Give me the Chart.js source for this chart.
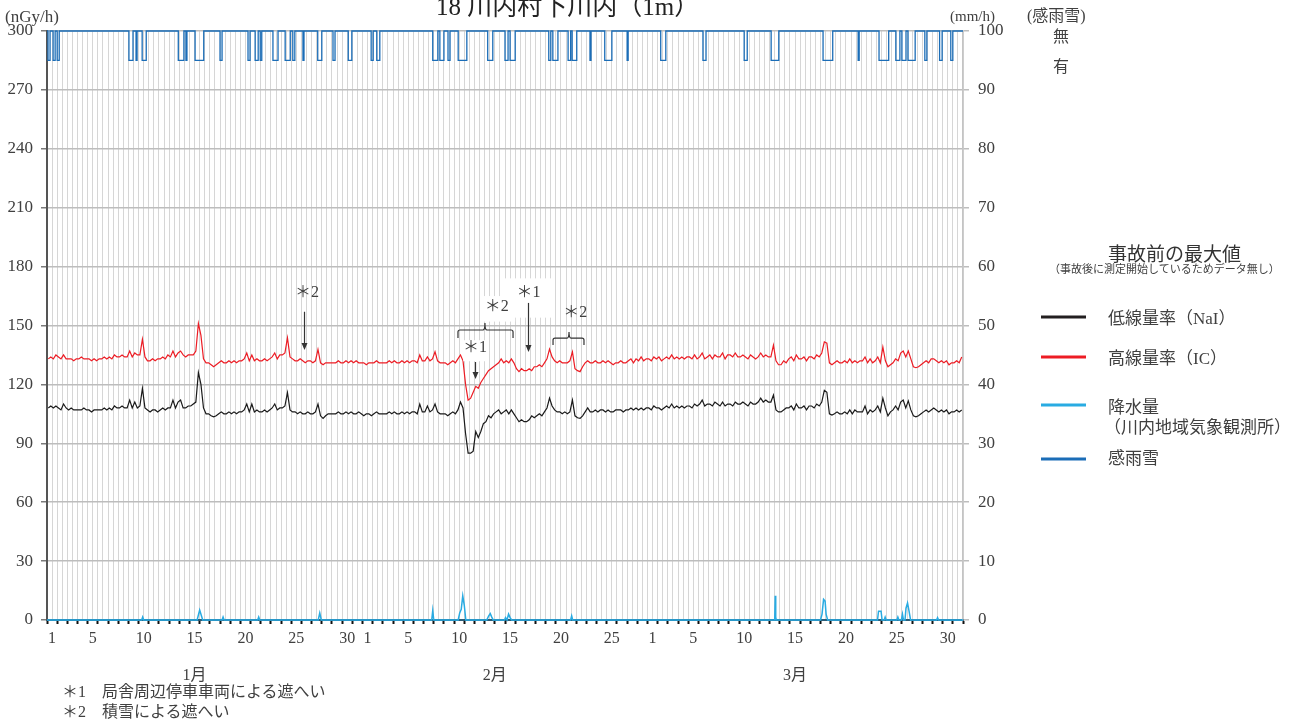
<!DOCTYPE html>
<html><head><meta charset="utf-8">
<script src="https://cdn.jsdelivr.net/npm/chart.js@4.4.1/dist/chart.umd.min.js"></script>
<style>
html,body{margin:0;padding:0;background:#fff;}
#wrap{position:relative;width:1290px;height:725px;overflow:hidden;}
canvas{position:absolute;left:0;top:0;}
.lbl{position:absolute;white-space:nowrap;color:#404040;font-family:"Liberation Serif","Noto Sans CJK JP",serif;line-height:1;transform:translateY(-50%);}
.ln{position:absolute;height:3px;width:45px;left:1041px;transform:translateY(-50%);}
</style></head><body>
<div id="wrap">
<canvas id="c" width="1290" height="725"></canvas>
<div class="lbl" style="left:436px;top:6px;font-size:25px;color:#222">18 川内村下川内（1m）</div>
<div class="lbl" style="left:5px;top:16px;font-size:17px">(nGy/h)</div>
<div class="lbl" style="left:950px;top:16px;font-size:15px">(mm/h)</div>
<div class="lbl" style="left:1027px;top:16px;font-size:16px">(感雨雪)</div>
<div class="lbl" style="left:1053px;top:37px;font-size:16px">無</div>
<div class="lbl" style="left:1053px;top:67px;font-size:16px">有</div>
<div class="lbl" style="left:1108px;top:254px;font-size:19px;color:#333">事故前の最大値</div>
<div class="lbl" style="left:1049px;top:269px;font-size:11px">（事故後に測定開始しているためデータ無し）</div>
<div class="ln" style="top:317px;background:#231f20"></div>
<div class="lbl" style="left:1108px;top:318px;font-size:17px">低線量率（NaI）</div>
<div class="ln" style="top:357px;background:#ed1c24"></div>
<div class="lbl" style="left:1108px;top:358px;font-size:17px">高線量率（IC）</div>
<div class="ln" style="top:405px;background:#29abe2"></div>
<div class="lbl" style="left:1108px;top:407px;font-size:17px">降水量</div>
<div class="lbl" style="left:1104px;top:427px;font-size:17px">（川内地域気象観測所）</div>
<div class="ln" style="top:459px;background:#1b6db7"></div>
<div class="lbl" style="left:1108px;top:458px;font-size:17px">感雨雪</div>
<div class="lbl" style="left:62px;top:692px;font-size:16px">＊1　局舎周辺停車車両による遮へい</div>
<div class="lbl" style="left:62px;top:712px;font-size:16px">＊2　積雪による遮へい</div>
</div>
<script>
// ---- categories / tick labels ----
const monthLengths = [31, 28, 31];
const monthNames = ['1月', '2月', '3月'];
const dayTickLabels = [1, 5, 10, 15, 20, 25, 30];
const samplesPerDay = 4;

// ---- 低線量率(NaI) nGy/h, 4 samples per day, Jan 1 .. Mar 31 ----
const nai = [
108,109,108,109, 108,107,110,108, 107,108,107,107, 107,107,108,107, 107,106,107,107,
107,107,108,107, 108,107,109,108, 108,109,108,108, 112,108,111,108, 109,118,108,107,
106,107,107,106, 107,108,107,108, 108,112,108,111, 112,108,108,109, 109,110,111,126,
120,108,105,105, 104,103.5,104,105, 106,105,105,106, 105,106,105,106, 106,107,110,106,
110,106,107,106, 106,107,106,107, 108,110,107,108, 108,109,115.8,107, 106,106,105,106,
105,105,106,105, 105,106,110,104, 102.7,104,105,105, 105,105,106,105, 105,106,105,106,
105,105,106,105,
104,105,105,104, 105,106,105,105, 105,105,106,105, 106,105,105,106, 105,106,105,106,
106,105,110,106, 106,109,106,107, 110,106,105,105, 105,104,105,106, 105,107,111,108,
95,85,85,86, 96,93,96,100, 101,104,103,105, 106,107,105,106, 107,105,107,105,
103,101,102,101, 101,102,104,103, 104,105,104,106, 108,113,109,107, 106,106,105,106,
105,106,112,104, 103,102.7,104,106, 108,106,106,107, 106,107,107,106, 107,106,106,107,
107,107,106,107, 107,108,107,108, 107,108,107,108, 108,107,109,108,
108,107,108,109, 108,110,108,109, 108,109,108,109, 109,108,110,109, 110,112,109,110,
110,109,111,110, 109,111,109,110, 110,109,111,110, 110,111,110,109, 111,110,110,111,
113,111,112,111, 111,114.6,107,106, 106,107,108,108, 109,107,110,108, 108,109,107,109,
109,108,110,109, 111,117,116,105, 104.4,105,106,105, 105,106,105,107, 105,107,106,106,
106,109,105,107, 106,107,109,106, 113,108,104,106, 107,109,107,111, 112,108,111.6,107,
104,103.5,104,105, 106,107,106,107, 108,107,106,107, 106,107,105,106, 106,107,106,107
];
// ---- 高線量率(IC) nGy/h ----
const ic = [
133,134,133,135, 134,133,135,133, 133,133,132,133, 133,134,133,133, 133,132,133,132,
133,133,134,133, 134,133,135,134, 134,135,134,134, 137,134,136,135, 135,143,134,132,
132,133,132,133, 133,134,133,135, 134,137,134,136, 137,135,134,135, 135,135,137,151,
145,133,131,131, 130,129,130,131, 132,131,131,132, 131,132,131,132, 132,133,136,132,
135,132,133,132, 132,133,132,133, 134,136,133,135, 135,136,143.7,134, 133,132,132,133,
132,131,132,132, 131,132,137.8,131, 130,131,131,131, 131,131,132,131, 131,132,131,132,
131,132,131,131,
131,130,131,131, 131,132,131,131, 131,131,132,131, 132,131,131,132, 131,132,131,132,
132,131,135,132, 132,134,132,133, 136.6,132,131,131, 131,130,131,132, 131,133,135,132,
120,112,113,116, 119,118,121,123, 125,127,128,129, 130,131,133,131, 132,131,133,131,
128,126.5,128,127, 127,128,127,129, 129,130,129,131, 133,138,134,132, 131,132,131,131,
131,132,136.6,128, 127,126.5,129,131, 132,131,131,132, 131,131,132,131, 132,131,130,131,
131,132,131,131, 132,133,131,133, 132,134,132,133, 133,132,134,133,
134,132,133,134, 133,135,133,134, 133,134,133,134, 134,133,135,133, 134,136,133,134,
135,133,135,134, 134,136,133,135, 135,134,136,134, 134,135,134,133, 135,134,133,134,
136,134,135,134, 134,140,132,130, 130,132,131,133, 134,132,135,133, 133,134,132,134,
134,133,135,134, 136,141.7,141,131, 130,131,132,131, 131,132,131,133, 131,132,131,132,
132,134,131,133, 131,132,134,131, 139,132,129,130, 131,133,132,136, 137,134,137,133,
129,128.5,129,130, 131,132,131,133, 133,132,131,132, 131,132,130,131, 131,132,131,134
];
// ---- 降水量 mm/h (time in days from Jan 1 00:00) ----
const precipDay = [0, 9.3,9.4,9.5, 14.75,15.0,15.3, 17.2,17.3,17.4, 20.7,20.8,20.9, 26.65,26.8,26.95,
  37.8,37.9,38.0, 40.4,40.55,40.7,40.85,41.0,41.15, 43.2,43.4,43.55,43.7,43.85,
  44.95,45.05,45.2,45.35,45.5,45.65, 51.45,51.55,51.65, 71.5,71.55,71.6,71.65,
  76.0,76.15,76.3,76.45,76.55,76.7, 81.6,81.7,81.95,82.05, 82.25,82.35,82.45,
  83.5,83.6,83.7, 83.95,84.05,84.15, 84.3,84.4,84.55,84.7,84.85, 87.4,87.5,87.6, 90];
const precipMm = [0, 0,0.5,0, 0,1.7,0, 0,0.5,0, 0,0.5,0, 0,1.2,0,
  0,1.6,0, 0,1.2,1.8,4.1,2.5,0, 0,0.7,1.1,0.5,0,
  0,0.4,0,1.0,0.4,0, 0,0.7,0, 0,4.1,0.5,0,
  0,1.0,3.5,3.2,1.0,0, 0,1.5,1.5,0, 0,0.5,0,
  0,0.5,0, 0,1.0,0, 0,2.0,2.9,1.5,0, 0,0.4,0, 0];
// ---- 感雨雪: periods with 有 (start/end, days) ----
const rainStart = [0.1,0.6,1.0,8.05,8.75,9.35,12.9,13.65,14.55,17.0,19.75,20.45,20.95,22.2,23.4,24.15,25.15,26.6,28.1,29.6,31.85,32.4,37.9,38.6,39.4,40.4,43.3,45.0,45.5,49.3,49.7,51.2,51.6,53.35,54.8,57.0,60.3,64.45,68.5,71.15,76.25,79.7,81.75,83.4,84.0,84.6,86.25,87.7,88.8];
const rainEnd   = [0.3,0.8,1.2,8.45,8.85,9.75,13.45,13.75,15.4,17.2,19.95,20.75,21.1,22.7,23.9,24.35,25.25,27.0,28.3,29.95,32.05,32.7,38.4,39.0,39.6,41.25,43.8,45.3,46.0,49.5,50.2,51.45,52.05,53.45,55.5,57.1,60.8,64.75,68.8,71.9,77.2,79.8,82.7,83.8,84.4,85.3,86.45,87.95,89.0];
const RAIN_NO = 100, RAIN_YES = 95;

// ---- build datasets ----
const totalDays = monthLengths.reduce((a, b) => a + b, 0);
const naiPts = nai.map((v, i) => ({x: (i + 0.5) / samplesPerDay, y: v}));
const icPts = ic.map((v, i) => ({x: (i + 0.5) / samplesPerDay, y: v}));
const precipPts = precipDay.map((d, i) => ({x: d, y: precipMm[i]}));
const rainPts = [{x: 0, y: RAIN_NO}];
rainStart.forEach((s, i) => { rainPts.push({x: s, y: RAIN_YES}); rainPts.push({x: rainEnd[i], y: RAIN_NO}); });
rainPts.push({x: totalDays, y: RAIN_NO});

function dayLabel(v) {
  if (Math.abs(v - Math.floor(v) - 0.5) > 1e-6) return '';
  let d = Math.floor(v);
  for (let m = 0; m < monthLengths.length; m++) {
    if (d < monthLengths[m]) { const dom = d + 1; return dayTickLabels.includes(dom) ? String(dom) : ''; }
    d -= monthLengths[m];
  }
  return '';
}

// annotations (in data units: days, nGy/h)
const notes = {
  boxes: [ {x1: 44.8, x2: 49.9, y1: 174, y2: 154}, {x1: 40.9, x2: 43.3, y1: 142.5, y2: 131.8}, {x1: 42.9, x2: 46.0, y1: 165, y2: 152} ],
  texts: [ {x: 25.55, y: 166.6, t: '＊2'}, {x: 42.05, y: 138.5, t: '＊1'}, {x: 44.2, y: 159.4, t: '＊2'}, {x: 47.3, y: 166.6, t: '＊1'}, {x: 51.9, y: 156.4, t: '＊2'} ],
  arrows: [ {x: 25.25, from: 157, to: 137.5}, {x: 42.05, from: 131.4, to: 122.8}, {x: 47.26, from: 161.5, to: 136.5} ],
  braces: [ {x1: 40.38, x2: 45.79, xm: 43.03, yEnd: 143.6, yBar: 147.7, yTip: 151.3}, {x1: 49.72, x2: 52.76, xm: 51.29, yEnd: 140.1, yBar: 143.6, yTip: 146.7} ]
};

const extras = {
  id: 'extras',
  afterDatasetsDraw(chart) {
    const c = chart.ctx, xs = chart.scales.x, ys = chart.scales.y;
    const X = v => xs.getPixelForValue(v), Y = v => ys.getPixelForValue(v);
    c.save();
    c.fillStyle = '#fff';
    notes.boxes.forEach(b => c.fillRect(X(b.x1), Y(b.y1), X(b.x2) - X(b.x1), Y(b.y2) - Y(b.y1)));
    c.strokeStyle = '#333'; c.fillStyle = '#333'; c.lineWidth = 1.2;
    notes.arrows.forEach(a => {
      const x = Math.round(X(a.x)) + 0.5, y1 = Y(a.from), y2 = Y(a.to);
      c.beginPath(); c.moveTo(x, y1); c.lineTo(x, y2 - 6); c.stroke();
      c.beginPath(); c.moveTo(x - 3, y2 - 7); c.lineTo(x + 3, y2 - 7); c.lineTo(x, y2); c.closePath(); c.fill();
    });
    notes.braces.forEach(b => {
      const xa = X(b.x1), xb = X(b.x2), xm = X(b.xm), ye = Y(b.yEnd), yb = Y(b.yBar), yt = Y(b.yTip);
      c.beginPath();
      c.moveTo(xa, ye); c.lineTo(xa, yb + 2); c.quadraticCurveTo(xa, yb, xa + 2, yb);
      c.lineTo(xm - 2, yb); c.quadraticCurveTo(xm, yb, xm, yt);
      c.quadraticCurveTo(xm, yb, xm + 2, yb);
      c.lineTo(xb - 2, yb); c.quadraticCurveTo(xb, yb, xb, yb + 2); c.lineTo(xb, ye);
      c.stroke();
    });
    c.fillStyle = '#404040';
    c.font = '16px "Liberation Serif", "Noto Sans CJK JP", serif';
    c.textAlign = 'center'; c.textBaseline = 'middle';
    notes.texts.forEach(t => c.fillText(t.t, X(t.x), Y(t.y)));
    // month labels
    let start = 0;
    c.font = '16px "Liberation Serif", "Noto Sans CJK JP", serif';
    monthLengths.forEach((len, m) => {
      c.fillText(monthNames[m], X(start + len / 2 - 1), 676);
      start += len;
    });
    c.restore();
  }
};

const tickFont = {family: '"Liberation Serif", serif', size: 17};
new Chart(document.getElementById('c'), {
  type: 'line',
  data: { datasets: [
    {label: '感雨雪', data: rainPts, yAxisID: 'y1', borderColor: '#1b6db7', borderWidth: 1.3, stepped: true, pointRadius: 0, clip: 4},
    {label: '降水量', data: precipPts, yAxisID: 'y1', borderColor: '#29abe2', borderWidth: 1.5, pointRadius: 0, clip: 4},
    {label: '高線量率(IC)', data: icPts, yAxisID: 'y', borderColor: '#ed1c24', borderWidth: 1.2, pointRadius: 0},
    {label: '低線量率(NaI)', data: naiPts, yAxisID: 'y', borderColor: '#1a1a1a', borderWidth: 1.2, pointRadius: 0}
  ]},
  options: {
    responsive: false, animation: false, devicePixelRatio: 1,
    layout: {padding: {top: 31, left: 0, right: 0, bottom: 0}},
    plugins: {legend: {display: false}, tooltip: {enabled: false}},
    elements: {line: {tension: 0}},
    scales: {
      x: {
        type: 'linear', min: 0, max: totalDays, position: 'bottom',
        afterBuildTicks: s => { const t = []; for (let i = 0; i <= totalDays * 2; i++) t.push({value: i / 2}); s.ticks = t; },
        afterFit: s => { s.height = 105; },
        ticks: {autoSkip: false, maxRotation: 0, padding: 5, color: '#404040', font: {family: '"Liberation Serif", serif', size: 16}, callback: v => dayLabel(v)},
        grid: {
          color: c => (c.tick && c.tick.value === 0) ? 'rgba(0,0,0,0)' : '#d6d6d6', lineWidth: 1,
          tickLength: 4, tickWidth: 2,
          tickColor: c => (c.tick && Number.isInteger(c.tick.value)) ? '#111' : 'rgba(0,0,0,0)'
        },
        border: {display: true, color: '#2a5d78', width: 2}
      },
      y: {
        position: 'left', min: 0, max: 300,
        afterBuildTicks: s => { const t = []; for (let v = 0; v <= 300; v += 30) t.push({value: v}); s.ticks = t; },
        afterFit: s => { s.width = 47; },
        ticks: {padding: 8, color: '#404040', font: tickFont},
        grid: {color: '#bdbdbd', lineWidth: 1.5, tickLength: 6, tickColor: '#7a7a7a'},
        border: {display: true, color: '#555', width: 2}
      },
      y1: {
        position: 'right', min: 0, max: 100,
        afterBuildTicks: s => { const t = []; for (let v = 0; v <= 100; v += 10) t.push({value: v}); s.ticks = t; },
        afterFit: s => { s.width = 327; },
        ticks: {padding: 9, color: '#404040', font: tickFont},
        grid: {drawOnChartArea: false, tickLength: 6, tickColor: '#bdbdbd', lineWidth: 1.5},
        border: {display: true, color: '#c4c4c4', width: 1.5}
      }
    }
  },
  plugins: [extras]
});
</script>
</body></html>
